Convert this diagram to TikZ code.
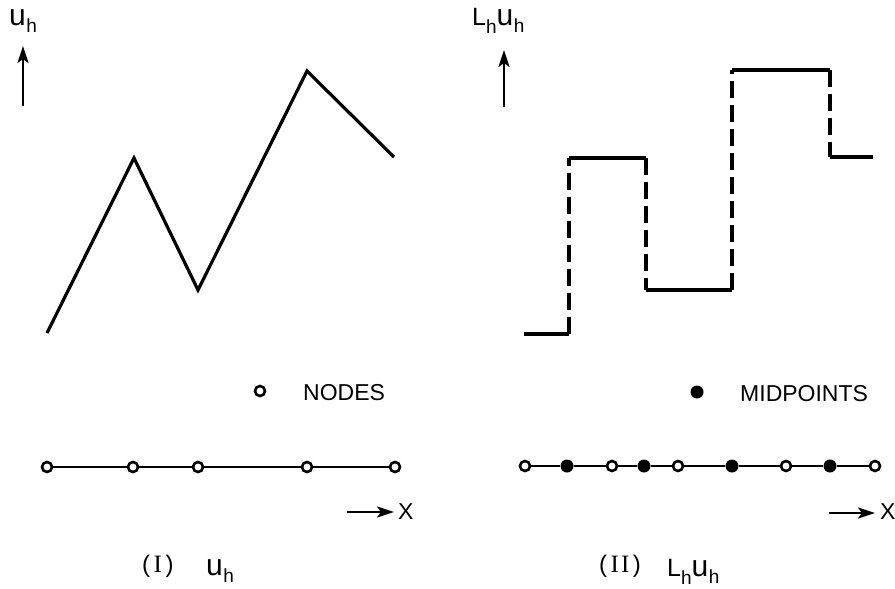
\documentclass[tikz,border=0pt]{standalone}
\usepackage{fontspec}
\setmainfont{Liberation Sans}
\newfontfamily\romI{Liberation Serif}
\usetikzlibrary{arrows.meta}
\newcommand{\symuh}{{\fontsize{30}{30}\selectfont u}\kern0.5pt\raisebox{-7pt}{\fontsize{19}{19}\selectfont h}}
\newcommand{\symLh}{{\fontsize{25}{25}\selectfont L}\raisebox{-8pt}{\fontsize{19}{19}\selectfont h}}
\newcommand{\numI}{{\romI\fontsize{25}{25}\selectfont I}}
\begin{document}
\begin{tikzpicture}[x=1pt,y=-1pt,
  curve/.style={line width=3.2pt, line join=miter},
  dashv/.style={line width=3.2pt, dash pattern=on 17pt off 7pt},
  axis/.style={line width=2.6pt},
  opennode/.style={circle, draw, line width=2.6pt, fill=white, minimum size=10pt, inner sep=0pt},
  midnode/.style={circle, fill=black, minimum size=13pt, inner sep=0pt},
  arr/.style={line width=2.6pt, -{Stealth[length=17pt,width=11pt,inset=4pt]}},
  lbl/.style={font=\fontsize{23}{23}\selectfont, inner sep=0pt},
  captext/.style={font=\fontsize{24}{24}\selectfont, inner sep=0pt}
]
\useasboundingbox (0,0) rectangle (895,589);

% ---------------- left panel ----------------
\node[inner sep=0pt, anchor=base west] (lab1) at (9,25) {\symuh};
\coordinate (ya1) at (23,106);
\coordinate (yb1) at (23,46);
\draw[arr] (ya1) -- (yb1);

\coordinate (p1) at (47,333);
\coordinate (p2) at (134,158);
\coordinate (p3) at (198,290);
\coordinate (p4) at (307,71);
\coordinate (p5) at (394,157);
\draw[curve] (p1) -- (p2) -- (p3) -- (p4) -- (p5);

\node[opennode] (leg1) at (260,391) {};
\node[lbl, anchor=base west] (legt1) at (303,400) {NODES};

\node[opennode] (n1) at (47,467) {};
\node[opennode] (n2) at (133,467) {};
\node[opennode] (n3) at (198,467) {};
\node[opennode] (n4) at (307,467) {};
\node[opennode] (n5) at (395,467) {};
\draw[axis] (n1) -- (n2) -- (n3) -- (n4) -- (n5);

\coordinate (xa1) at (347,512);
\coordinate (xb1) at (394,512);
\draw[arr] (xa1) -- (xb1);
\node[lbl, anchor=west] (xl1) at (398,512) {X};

\node[captext, anchor=base west] (c1) at (142,572) {(\kern3.5pt\numI\kern3.5pt)};
\node[inner sep=0pt, anchor=base west] (c1b) at (206,575) {\symuh};

% ---------------- right panel ----------------
\node[inner sep=0pt, anchor=base west] (lab2) at (472,25) {\symLh\symuh};
\coordinate (ya2) at (504,107);
\coordinate (yb2) at (504,50);
\draw[arr] (ya2) -- (yb2);

\coordinate (s1) at (524,334);
\coordinate (s2) at (569,334);
\coordinate (s3) at (569,158);
\coordinate (s4) at (646,158);
\coordinate (s5) at (646,290);
\coordinate (s6) at (732,290);
\coordinate (s7) at (732,70);
\coordinate (s8) at (830,70);
\coordinate (s9) at (830,157);
\coordinate (s10) at (873,157);
\draw[curve] (s1) -- (s2);
\draw[curve] (s3) -- (s4);
\draw[curve] (s5) -- (s6);
\draw[curve] (s7) -- (s8);
\draw[curve] (s9) -- (s10);
\draw[dashv] (s2) -- (s3);
\draw[dashv] (s4) -- (s5);
\draw[dashv] (s6) -- (s7);
\draw[dashv] (s8) -- (s9);

\node[midnode] (leg2) at (697,392) {};
\node[lbl, anchor=base west] (legt2) at (740,401) {MIDPOINTS};

\node[opennode] (m1) at (525,466) {};
\node[midnode]  (m2) at (567,466) {};
\node[opennode] (m3) at (612,466) {};
\node[midnode]  (m4) at (644,466) {};
\node[opennode] (m5) at (678,466) {};
\node[midnode]  (m6) at (732,466) {};
\node[opennode] (m7) at (786,466) {};
\node[midnode]  (m8) at (830,466) {};
\node[opennode] (m9) at (875,466) {};
\draw[axis] (m1) -- (m2) -- (m3) -- (m4) -- (m5) -- (m6) -- (m7) -- (m8) -- (m9);

\coordinate (xa2) at (829,513);
\coordinate (xb2) at (875,513);
\draw[arr] (xa2) -- (xb2);
\node[lbl, anchor=west] (xl2) at (880,512) {X};

\node[captext, anchor=base west] (c2) at (599,572) {(\kern3.5pt\numI\kern2pt\numI\kern3.5pt)};
\node[inner sep=0pt, anchor=base west] (c2b) at (667,576) {\symLh\symuh};
\end{tikzpicture}
\end{document}
